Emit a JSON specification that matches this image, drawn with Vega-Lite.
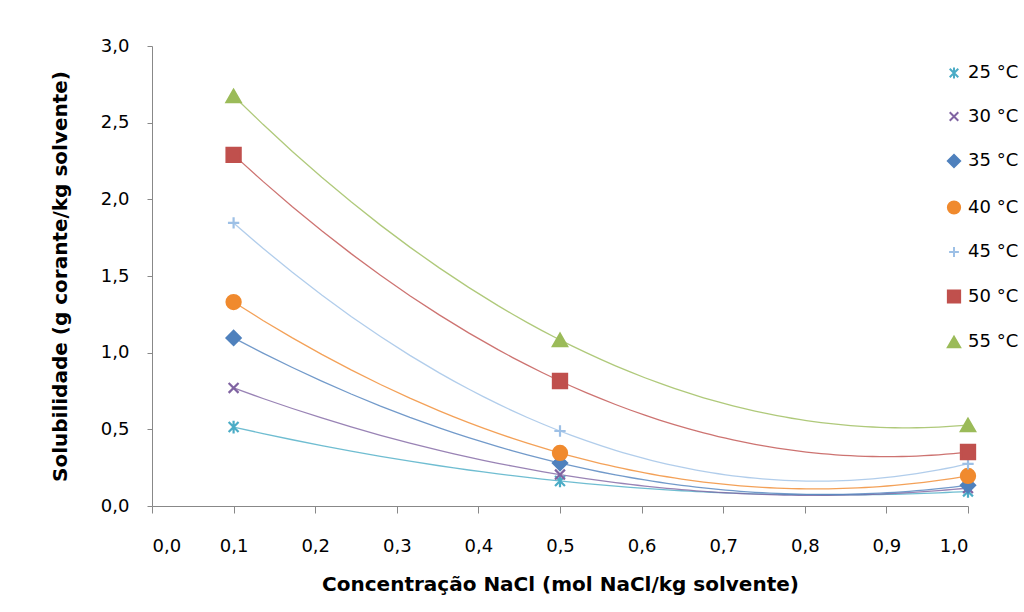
{
  "$schema": "https://vega.github.io/schema/vega-lite/v6.json",
  "width": 816,
  "height": 460,
  "autosize": "none",
  "padding": {"left": 152, "top": 46, "right": 56, "bottom": 106},
  "background": "white",
  "config": {
    "font": "DejaVu Sans",
    "view": {"stroke": null},
    "axis": {
      "domainColor": "#888888",
      "tickColor": "#888888",
      "grid": false,
      "labelFontSize": 18,
      "labelColor": "#000000",
      "titleFontSize": 20,
      "titleFontWeight": "bold",
      "titleColor": "#000000"
    },
    "legend": {
      "title": null,
      "labelFontSize": 18,
      "labelColor": "#000000",
      "rowPadding": 24.5,
      "labelOffset": 5,
      "symbolSize": 150,
      "symbolStrokeWidth": 2
    }
  },
  "data": {
    "values": [
      {"c": 0.1, "s": 0.515, "t": "25 °C"},
      {"c": 0.5, "s": 0.163, "t": "25 °C"},
      {"c": 1.0, "s": 0.095, "t": "25 °C"},
      {"c": 0.1, "s": 0.77, "t": "30 °C"},
      {"c": 0.5, "s": 0.205, "t": "30 °C"},
      {"c": 1.0, "s": 0.117, "t": "30 °C"},
      {"c": 0.1, "s": 1.096, "t": "35 °C"},
      {"c": 0.5, "s": 0.28, "t": "35 °C"},
      {"c": 1.0, "s": 0.135, "t": "35 °C"},
      {"c": 0.1, "s": 1.33, "t": "40 °C"},
      {"c": 0.5, "s": 0.346, "t": "40 °C"},
      {"c": 1.0, "s": 0.196, "t": "40 °C"},
      {"c": 0.1, "s": 1.846, "t": "45 °C"},
      {"c": 0.5, "s": 0.489, "t": "45 °C"},
      {"c": 1.0, "s": 0.275, "t": "45 °C"},
      {"c": 0.1, "s": 2.29, "t": "50 °C"},
      {"c": 0.5, "s": 0.815, "t": "50 °C"},
      {"c": 1.0, "s": 0.352, "t": "50 °C"},
      {"c": 0.1, "s": 2.674, "t": "55 °C"},
      {"c": 0.5, "s": 1.083, "t": "55 °C"},
      {"c": 1.0, "s": 0.528, "t": "55 °C"}
    ]
  },
  "layer": [
    {
      "transform": [
        {"regression": "s", "on": "c", "groupby": ["t"], "method": "poly", "order": 2, "extent": [0.1, 1.0]}
      ],
      "mark": {"type": "line", "strokeWidth": 1.3, "strokeOpacity": 0.8},
      "encoding": {
        "x": {"field": "c", "type": "quantitative"},
        "y": {"field": "s", "type": "quantitative"},
        "stroke": {"field": "t", "type": "nominal"}
      }
    },
    {
      "mark": {"type": "point", "size": 200, "strokeWidth": 2.2, "opacity": 1},
      "encoding": {
        "x": {
          "field": "c", "type": "quantitative",
          "scale": {"domain": [0, 1]},
          "axis": {
            "values": [0, 0.1, 0.2, 0.3, 0.4, 0.5, 0.6, 0.7, 0.8, 0.9, 1.0],
            "labelExpr": "replace(format(datum.value, '.1f'), '.', ',')",
            "tickSize": 7,
            "labelPadding": 24,
            "title": "Concentração NaCl (mol NaCl/kg solvente)",
            "titlePadding": 19
          }
        },
        "y": {
          "field": "s", "type": "quantitative",
          "scale": {"domain": [0, 3]},
          "axis": {
            "values": [0, 0.5, 1, 1.5, 2, 2.5, 3],
            "labelExpr": "replace(format(datum.value, '.1f'), '.', ',')",
            "tickSize": 5,
            "labelPadding": 18,
            "title": "Solubilidade (g corante/kg solvente)",
            "titlePadding": 30
          }
        },
        "fill": {
          "field": "t", "type": "nominal",
          "scale": {
            "domain": ["25 °C", "30 °C", "35 °C", "40 °C", "45 °C", "50 °C", "55 °C"],
            "range": ["#4BACC6", "#8064A2", "#4F81BD", "#F08A2E", "#95B3D7", "#C0504D", "#9BBB59"]
          },
          "legend": {"orient": "none", "legendX": 793, "legendY": 18}
        },
        "stroke": {
          "field": "t", "type": "nominal",
          "scale": {
            "domain": ["25 °C", "30 °C", "35 °C", "40 °C", "45 °C", "50 °C", "55 °C"],
            "range": ["#4BACC6", "#8064A2", "#4F81BD", "#F08A2E", "#9DC0E6", "#C0504D", "#9BBB59"]
          },
          "legend": {"orient": "none", "legendX": 793, "legendY": 18}
        },
        "shape": {
          "field": "t", "type": "nominal",
          "scale": {
            "domain": ["25 °C", "30 °C", "35 °C", "40 °C", "45 °C", "50 °C", "55 °C"],
            "range": [
              "M-0.7,-0.7L0.7,0.7M-0.7,0.7L0.7,-0.7M0,-0.9L0,0.9",
              "M-0.7,-0.7L0.7,0.7M-0.7,0.7L0.7,-0.7",
              "diamond",
              "circle",
              "M-0.8,0L0.8,0M0,-0.8L0,0.8",
              "square",
              "triangle-up"
            ]
          },
          "legend": {"orient": "none", "legendX": 793, "legendY": 18}
        }
      }
    }
  ]
}
